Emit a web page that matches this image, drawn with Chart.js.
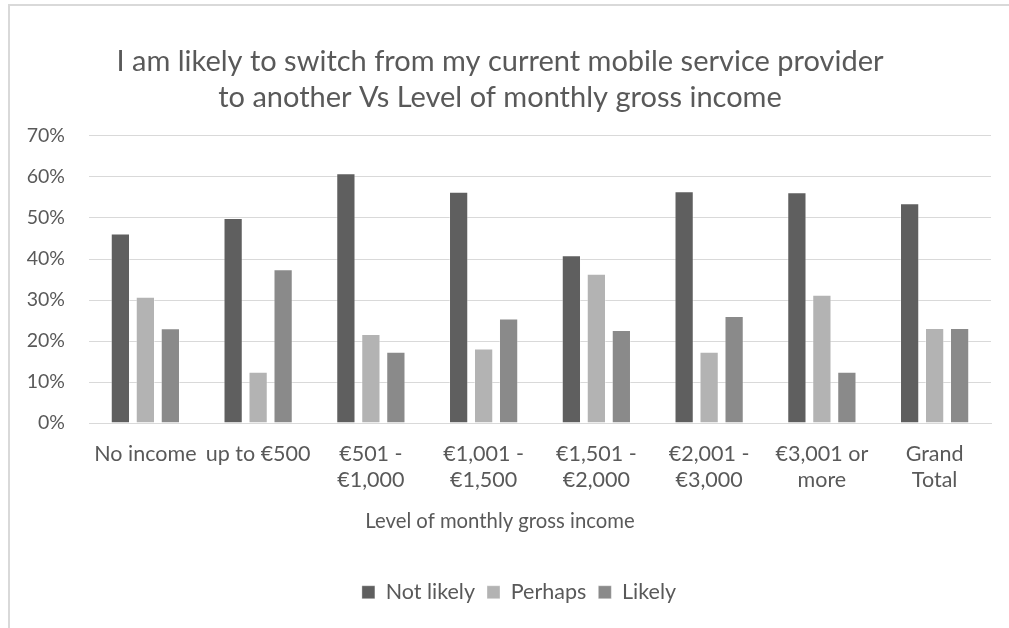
<!DOCTYPE html>
<html>
<head>
<meta charset="utf-8">
<style>
  html, body { margin: 0; padding: 0; background: #ffffff; }
  body { width: 1009px; height: 628px; overflow: hidden; position: relative; }
  #frame { position: absolute; left: 8px; top: 4px; width: 1100px; height: 700px;
           border-left: 2px solid #d9d9d9; border-top: 2px solid #d9d9d9; box-sizing: border-box; }
  #wrap { position: absolute; left: 0; top: 0; width: 1009px; height: 628px; }
</style>
<script src="https://cdn.jsdelivr.net/npm/chart.js@4.4.1/dist/chart.umd.min.js"></script>
</head>
<body>
<div id="frame"></div>
<div id="wrap"><canvas id="chart" width="1009" height="628"></canvas></div>
<script>
// Income bands (multi-line labels as arrays)
const categories = [
  'No income',
  'up to €500',
  ['€501 -', '€1,000'],
  ['€1,001 -', '€1,500'],
  ['€1,501 -', '€2,000'],
  ['€2,001 -', '€3,000'],
  ['€3,001 or', 'more'],
  ['Grand', 'Total']
];

// Share of respondents per answer, in percent
const notLikely = [46.2, 50.0, 60.9, 56.4, 40.9, 56.5, 56.3, 53.6];
const perhaps   = [30.8, 12.5, 21.7, 18.2, 36.4, 17.4, 31.3, 23.2];
const likely    = [23.1, 37.5, 17.4, 25.5, 22.7, 26.1, 12.5, 23.2];

const yTicks = [0, 10, 20, 30, 40, 50, 60, 70];

const FONT = 'Lato, "Open Sans", sans-serif';
const TEXT = '#595959';

function series(label, data, color) {
  return {
    label: label,
    data: data,
    backgroundColor: color,
    borderColor: 'rgba(255,255,255,0.35)',
    borderWidth: 1,
    categoryPercentage: 0.665,
    barPercentage: 0.77
  };
}

// Nudge the legend row and the axis caption slightly right of the canvas centre
const boxShift = {
  id: 'boxShift',
  afterLayout(chart) {
    const shift = (box, dx) => {
      if (!box) return;
      box.left += dx;
      box.right += dx;
    };
    shift(chart.legend, 19);
    shift(chart.subtitleBlock, 6);
  }
};

new Chart(document.getElementById('chart'), {
  type: 'bar',
  data: {
    labels: categories,
    datasets: [
      series('Not likely', notLikely, '#5f5f5f'),
      series('Perhaps', perhaps, '#b3b3b3'),
      series('Likely', likely, '#8a8a8a')
    ]
  },
  plugins: [boxShift],
  options: {
    responsive: false,
    animation: false,
    devicePixelRatio: 1,
    layout: { padding: { left: 9, right: 18, top: 0, bottom: 15 } },
    plugins: {
      title: {
        display: true,
        text: ['I am likely to switch from my current mobile service provider',
               'to another Vs Level of monthly gross income'],
        color: TEXT,
        font: { family: FONT, size: 29, weight: 'normal', lineHeight: 1.24 },
        padding: { top: 44, bottom: 20 }
      },
      // Category axis caption, centred on the whole chart
      subtitle: {
        display: true,
        position: 'bottom',
        weight: 500,
        text: 'Level of monthly gross income',
        color: TEXT,
        font: { family: FONT, size: 20.3, weight: 'normal', lineHeight: 1.2 },
        padding: { top: 6, bottom: 36 }
      },
      legend: {
        position: 'bottom',
        labels: {
          color: TEXT,
          font: { family: FONT, size: 21.5 },
          boxWidth: 13,
          boxHeight: 13,
          padding: 12
        }
      },
      tooltip: { enabled: false }
    },
    scales: {
      x: {
        grid: { display: false },
        border: { display: true, color: '#d9d9d9', width: 1 },
        ticks: {
          color: TEXT,
          font: { family: FONT, size: 21.5, lineHeight: 1.21 },
          autoSkip: false,
          maxRotation: 0,
          padding: 10
        }
      },
      y: {
        min: 0,
        max: 70,
        afterBuildTicks: function (scale) {
          scale.ticks = yTicks.map(v => ({ value: v }));
        },
        afterFit: function (scale) { scale.width = 80; },
        grid: { color: '#d9d9d9', lineWidth: 1, drawTicks: false },
        border: { display: false },
        ticks: {
          color: TEXT,
          font: { family: FONT, size: 19.5 },
          padding: 24,
          callback: v => v + '%'
        }
      }
    }
  }
});
</script>
</body>
</html>
